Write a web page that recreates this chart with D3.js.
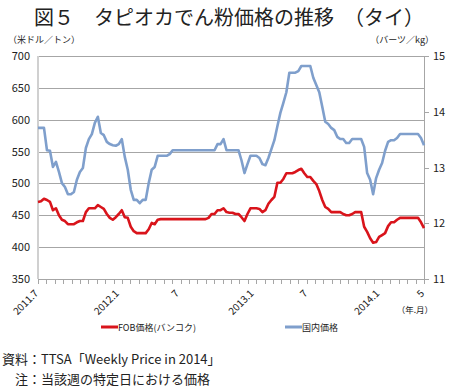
<!DOCTYPE html>
<html>
<head>
<meta charset="utf-8">
<script src="https://cdn.jsdelivr.net/npm/d3@7"></script>
<style>
  body { margin: 0; background: #fff; }
  text { font-family: "Noto Sans CJK JP", "Noto Sans", sans-serif; }
</style>
</head>
<body>
<svg width="450" height="388"></svg>
<script>
(function (d3) {
  'use strict';

  // FOB価格（米ドル/トン）, weekly
  const fob = [
    471, 472, 476, 474, 471, 458, 461, 450, 443, 441,
    436, 436, 436, 439, 441, 441, 455, 461, 461, 461,
    466, 463, 460, 452, 446, 443, 447, 452, 458, 447,
    446, 432, 425, 422, 422, 422, 422, 428, 438, 436,
    443, 444, 444, 444, 444, 444, 444, 444, 444, 444,
    444, 444, 444, 444, 444, 444, 444, 446, 452, 452,
    458, 458, 461, 455, 454, 454, 452, 452, 447, 441,
    452, 461, 461, 461, 460, 455, 458, 468, 474, 479,
    501, 501, 507, 516, 516, 516, 518, 521, 523, 516,
    510, 510, 504, 499, 488, 474, 463, 460, 455, 455,
    455, 455, 452, 450, 450, 452, 455, 455, 455, 432,
    424, 414, 407, 408, 416, 419, 422, 433, 439, 439,
    443, 446, 446, 446, 446, 446, 446, 446, 439, 430
  ];

  // 国内価格（バーツ/kg）, weekly
  const domestic = [
    13.71, 13.71, 13.71, 13.31, 13.30, 13.01, 13.10, 12.92, 12.72, 12.65,
    12.52, 12.52, 12.56, 12.78, 12.92, 12.99, 13.35, 13.51, 13.60, 13.80,
    13.91, 13.62, 13.58, 13.46, 13.42, 13.40, 13.39, 13.42, 13.51, 13.19,
    12.96, 12.60, 12.42, 12.42, 12.36, 12.42, 12.42, 12.72, 12.96, 13.01,
    13.21, 13.21, 13.21, 13.21, 13.24, 13.31, 13.31, 13.31, 13.31, 13.31,
    13.31, 13.31, 13.31, 13.31, 13.31, 13.31, 13.31, 13.31, 13.31, 13.31,
    13.42, 13.42, 13.51, 13.31, 13.31, 13.31, 13.31, 13.31, 13.13, 12.90,
    13.06, 13.21, 13.21, 13.21, 13.17, 13.06, 13.04, 13.17, 13.33, 13.49,
    13.74, 13.98, 14.16, 14.35, 14.70, 14.70, 14.70, 14.73, 14.82, 14.82,
    14.82, 14.82, 14.61, 14.48, 14.35, 14.09, 13.82, 13.78, 13.71, 13.67,
    13.55, 13.51, 13.51, 13.44, 13.44, 13.51, 13.51, 13.51, 13.51, 13.37,
    12.90, 12.78, 12.52, 12.81, 12.96, 13.08, 13.30, 13.46, 13.49, 13.49,
    13.53, 13.60, 13.60, 13.60, 13.60, 13.60, 13.60, 13.60, 13.53, 13.40
  ];

  const xLabels = ['2011.7', '2012.1', '7', '2013.1', '7', '2014.1', '5'];
  const xLabelIdx = [0, 27, 47, 72, 90, 114, 129];
  const leftTicks = [350, 400, 450, 500, 550, 600, 650, 700];
  const rightTicks = [11, 12, 13, 14, 15];

  const svg = d3.select('svg');
  const width = +svg.attr('width');

  const left = 38, right = 424, top = 56, bottom = 279;

  const x = d3.scaleLinear().domain([0, fob.length - 1]).range([left, right]);
  const yL = d3.scaleLinear().domain([350, 700]).range([bottom, top]);
  const yR = d3.scaleLinear().domain([11, 15]).range([bottom, top]);

  // title
  svg.append('text')
    .attr('x', width / 2 + 4)
    .attr('y', 25)
    .attr('text-anchor', 'middle')
    .attr('font-size', 20)
    .attr('font-weight', 400)
    .attr('fill', '#222')
    .text('図５　タピオカでん粉価格の推移　（タイ）');

  // unit labels
  svg.append('text')
    .attr('x', 8).attr('y', 43)
    .attr('font-size', 9).attr('fill', '#222')
    .text('（米ドル／トン）');
  svg.append('text')
    .attr('x', 434).attr('y', 43)
    .attr('text-anchor', 'end')
    .attr('font-size', 9).attr('fill', '#222')
    .text('（バーツ／kg）');

  // grid
  svg.append('g')
    .selectAll('line')
    .data(leftTicks.filter(d => d > 350))
    .join('line')
      .attr('x1', left).attr('x2', right)
      .attr('y1', d => Math.round(yL(d)) + 0.5)
      .attr('y2', d => Math.round(yL(d)) + 0.5)
      .attr('stroke', '#a6a6a6');

  // left axis
  svg.append('line')
    .attr('x1', left).attr('x2', left)
    .attr('y1', top).attr('y2', bottom)
    .attr('stroke', '#d0d0d0').attr('stroke-width', 2);
  svg.append('g')
    .selectAll('text')
    .data(leftTicks)
    .join('text')
      .attr('x', 30)
      .attr('y', d => yL(d) + 4)
      .attr('text-anchor', 'end')
      .attr('font-size', 11)
      .attr('fill', '#222')
      .text(d => d);

  // right axis
  const rAxis = svg.append('g');
  rAxis.append('line')
    .attr('x1', right + 0.5).attr('x2', right + 0.5)
    .attr('y1', top).attr('y2', bottom)
    .attr('stroke', '#a6a6a6');
  rAxis.selectAll('line.tk')
    .data(rightTicks)
    .join('line')
      .attr('class', 'tk')
      .attr('x1', right).attr('x2', right + 5)
      .attr('y1', d => Math.round(yR(d)) + 0.5)
      .attr('y2', d => Math.round(yR(d)) + 0.5)
      .attr('stroke', '#a6a6a6');
  rAxis.selectAll('text')
    .data(rightTicks)
    .join('text')
      .attr('x', 433)
      .attr('y', d => yR(d) + 4)
      .attr('font-size', 11)
      .attr('fill', '#222')
      .text(d => d);

  // bottom axis
  svg.append('line')
    .attr('x1', left).attr('x2', right + 1)
    .attr('y1', bottom + 0.5).attr('y2', bottom + 0.5)
    .attr('stroke', '#a6a6a6');
  const minor = d3.scaleLinear().domain([0, 46]).range([left, right]);
  svg.append('g')
    .selectAll('line')
    .data(d3.range(47))
    .join('line')
      .attr('x1', d => Math.round(minor(d)) + 0.5)
      .attr('x2', d => Math.round(minor(d)) + 0.5)
      .attr('y1', bottom).attr('y2', bottom + 5)
      .attr('stroke', '#a6a6a6');

  svg.append('g')
    .selectAll('text')
    .data(xLabels)
    .join('text')
      .attr('transform', (d, i) => `translate(${x(xLabelIdx[i]) + 1},${bottom + 15}) rotate(-45)`)
      .attr('text-anchor', 'end')
      .attr('font-size', 10)
      .attr('fill', '#222')
      .text(d => d);

  svg.append('text')
    .attr('x', 433).attr('y', 313)
    .attr('text-anchor', 'end')
    .attr('font-size', 8.5).attr('fill', '#222')
    .text('（年.月）');

  // lines
  const lineL = d3.line().x((d, i) => x(i)).y(d => yL(d));
  const lineR = d3.line().x((d, i) => x(i)).y(d => yR(d));

  svg.append('path')
    .attr('d', lineR(domestic))
    .attr('fill', 'none')
    .attr('stroke', '#7f9fcc')
    .attr('stroke-width', 2.6)
    .attr('stroke-linejoin', 'round');

  svg.append('path')
    .attr('d', lineL(fob))
    .attr('fill', 'none')
    .attr('stroke', '#d9141b')
    .attr('stroke-width', 2.6)
    .attr('stroke-linejoin', 'round');

  // legend
  const legend = [
    { name: 'FOB価格(バンコク)', color: '#d9141b', x: 101 },
    { name: '国内価格', color: '#7f9fcc', x: 285 }
  ];
  const lg = svg.append('g')
    .selectAll('g')
    .data(legend)
    .join('g')
      .attr('transform', d => `translate(${d.x},327)`);
  lg.append('line')
    .attr('x1', 0).attr('x2', 17)
    .attr('stroke', d => d.color)
    .attr('stroke-width', 3);
  lg.append('text')
    .attr('x', 17).attr('y', 3.5)
    .attr('font-size', 9)
    .attr('fill', '#222')
    .text(d => d.name);

  // notes
  svg.append('text')
    .attr('x', 2).attr('y', 364)
    .attr('font-size', 13).attr('fill', '#222')
    .text('資料：TTSA「Weekly Price in 2014」');
  svg.append('text')
    .attr('x', 2).attr('y', 384)
    .attr('font-size', 13).attr('fill', '#222')
    .text('　注：当該週の特定日における価格');

}(d3));
</script>
</body>
</html>
